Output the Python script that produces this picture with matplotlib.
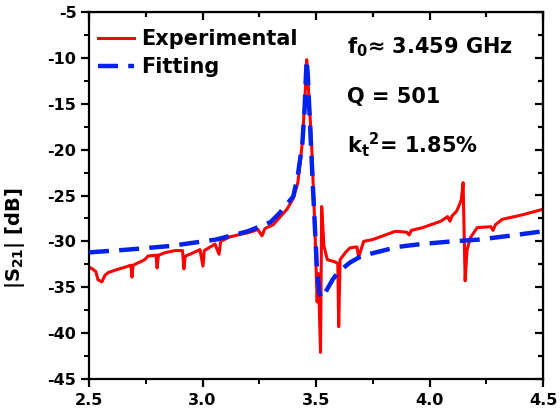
import matplotlib
matplotlib.use("Agg")
import matplotlib.pyplot as plt
from matplotlib.ticker import MultipleLocator

freq_exp = [2.500, 2.515, 2.530, 2.540, 2.557, 2.570, 2.585, 2.620, 2.660, 2.685,
            2.689, 2.694, 2.720, 2.745, 2.760, 2.795, 2.800, 2.806, 2.840, 2.880,
            2.912, 2.918, 2.924, 2.945, 2.989, 3.002, 3.008, 3.055, 3.073, 3.080,
            3.121, 3.209, 3.244, 3.262, 3.275, 3.311, 3.372, 3.400, 3.420, 3.440,
            3.452, 3.459, 3.466, 3.480, 3.495, 3.505, 3.510, 3.520, 3.525, 3.535,
            3.550, 3.580, 3.596, 3.600, 3.606, 3.630, 3.650, 3.680, 3.688, 3.710,
            3.750, 3.850, 3.900, 3.910, 3.920, 3.970, 4.050, 4.080, 4.090, 4.100,
            4.120, 4.140, 4.148, 4.157, 4.165, 4.180, 4.210, 4.270, 4.280, 4.290,
            4.320, 4.410, 4.500]
s21_exp = [-32.8, -33.0, -33.3, -34.2, -34.4, -33.7, -33.4, -33.1, -32.8, -32.6,
           -33.9, -32.6, -32.3, -32.0, -31.6, -31.5, -32.9, -31.5, -31.2, -31.0,
           -31.0, -33.0, -31.6, -31.4, -30.9, -32.7, -31.0, -30.3, -31.4, -30.0,
           -29.5, -29.0, -28.7, -29.4, -28.6, -28.2, -26.5, -25.3, -23.6, -19.2,
           -14.0, -10.2, -13.0, -19.0, -28.4, -36.6, -33.5, -42.1, -26.2, -30.5,
           -32.0, -32.2, -32.4, -39.3, -32.0, -31.2, -30.7, -30.6, -31.7, -30.0,
           -29.8, -28.9, -29.0, -29.3, -28.8, -28.5, -27.8, -27.3, -27.8, -27.2,
           -26.7, -25.5, -23.6, -34.3, -31.0, -29.6, -28.5, -28.4, -28.8, -28.2,
           -27.6, -27.1, -26.5]

# fitted curve
freq_fit = [2.50, 2.67, 2.86, 3.06, 3.20, 3.30, 3.34, 3.40, 3.42, 3.44,
            3.45, 3.455, 3.459, 3.464, 3.47, 3.485, 3.495, 3.505, 3.515, 3.525,
            3.54, 3.575, 3.60, 3.65, 3.70, 3.78, 3.86, 3.96, 4.10, 4.22,
            4.35, 4.47, 4.50]
s21_fit = [-31.2, -30.9, -30.5, -29.8, -28.9, -27.9, -26.9, -25.1, -22.8, -19.3,
           -15.5, -12.3, -10.2, -12.0, -15.3, -23.3, -28.4, -33.4, -35.6, -36.2,
           -35.6, -34.1, -33.3, -32.3, -31.6, -31.1, -30.6, -30.3, -30.0, -29.8,
           -29.4, -29.0, -28.9]

x_ticks = [2.5, 3.0, 3.5, 4.0, 4.5]
y_ticks = [-45, -40, -35, -30, -25, -20, -15, -10, -5]

plt.rcParams['axes.unicode_minus'] = False
plt.rcParams['font.family'] = 'DejaVu Sans'
plt.rcParams['font.weight'] = 'bold'
plt.rcParams['mathtext.fontset'] = 'dejavusans'

fig = plt.figure(figsize=(5.6, 4.15), dpi=100)
ax = fig.add_axes([89 / 560, 1 - 379 / 415, 454 / 560, 367 / 415])

ax.plot(freq_exp, s21_exp, color='#ff0000', lw=2.2, label='Experimental', zorder=2)
ax.plot(freq_fit, s21_fit, color='#0022ee', lw=3.2, ls=(0, (4.5, 2.3)),
        label='Fitting', zorder=3)

ax.set_xlim(2.5, 4.5)
ax.set_ylim(-45, -5)
ax.set_xticks(x_ticks)
ax.set_yticks(y_ticks)
ax.set_xticklabels([f'{v:.1f}' for v in x_ticks])
ax.set_yticklabels([str(v) for v in y_ticks])
ax.xaxis.set_minor_locator(MultipleLocator(0.25))
ax.yaxis.set_minor_locator(MultipleLocator(2.5))

for s in ax.spines.values():
    s.set_linewidth(1.6)
ax.tick_params(which='major', direction='out', length=6, width=1.6, labelsize=11.5)
ax.tick_params(which='minor', direction='out', length=3.5, width=1.4)
ax.tick_params(axis='x', which='major', pad=4)
ax.tick_params(axis='y', which='major', pad=3)

# mirrored inward ticks on top and right
top = ax.secondary_xaxis('top')
top.set_xticks(x_ticks)
top.xaxis.set_minor_locator(MultipleLocator(0.25))
top.tick_params(which='both', direction='in', labeltop=False, width=1.6)
top.tick_params(which='major', length=6)
top.tick_params(which='minor', length=3.5)
right = ax.secondary_yaxis('right')
right.set_yticks(y_ticks)
right.yaxis.set_minor_locator(MultipleLocator(2.5))
right.tick_params(which='both', direction='in', labelright=False, width=1.6)
right.tick_params(which='major', length=6)
right.tick_params(which='minor', length=3.5)

ax.set_ylabel(r'|S$_{\mathbf{21}}$| [dB]', fontweight='bold', fontsize=14)
ax.yaxis.set_label_coords(-0.137, 0.384)

leg = ax.legend(loc='upper left', bbox_to_anchor=(98 / 560, 1 - 29 / 415),
                bbox_transform=fig.transFigure, frameon=False, borderpad=0,
                borderaxespad=0, handlelength=1.75, handletextpad=0.3,
                labelspacing=0.38, prop={'weight': 'bold', 'size': 15})

fig.text(347 / 560, 1 - 53 / 415, r'f$_{\mathbf{0}}$≈ 3.459 GHz', va='baseline',
         weight='bold', fontsize=15)
fig.text(347 / 560, 1 - 103 / 415, 'Q = 501', va='baseline',
         weight='bold', fontsize=15)
fig.text(347 / 560, 1 - 153 / 415, r'k$_{\mathbf{t}}$$^{\mathbf{2}}$= 1.85%',
         va='baseline', weight='bold', fontsize=15)

fig.savefig('out.png', dpi=100)
